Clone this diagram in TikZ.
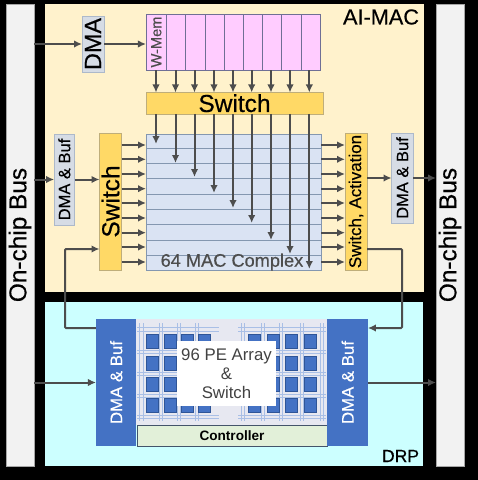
\documentclass[tikz,border=0pt]{standalone}
\usepackage{fontspec}
\setmainfont{Liberation Sans}
\newfontfamily\medfont[RawFeature={embolden=0.45}]{Liberation Sans}
\usetikzlibrary{arrows.meta,calc,positioning}
\definecolor{macbg}{HTML}{FFF2CC}
\definecolor{drpbg}{HTML}{CCFFFF}
\definecolor{busfill}{HTML}{F2F2F2}
\definecolor{busedge}{HTML}{A6A6A6}
\definecolor{swfill}{HTML}{FFD966}
\definecolor{swedge}{HTML}{BFAE7A}
\definecolor{memfill}{HTML}{FFCCFF}
\definecolor{memedge}{HTML}{6F6F95}
\definecolor{rowfill}{HTML}{DAE3F3}
\definecolor{rowedge}{HTML}{8497B0}
\definecolor{smallfill}{HTML}{D6DCE5}
\definecolor{smalledge}{HTML}{ADB9CA}
\definecolor{drpblue}{HTML}{4472C4}
\definecolor{peedge}{HTML}{2F5597}
\definecolor{wire}{HTML}{4D4D4D}
\definecolor{arraybg}{HTML}{E7E8F1}
\definecolor{gridblue}{HTML}{A9BFE6}
\definecolor{ctrlfill}{HTML}{E2F0D9}
\definecolor{ctrledge}{HTML}{44546A}
\newcommand{\fsz}[1]{\fontsize{#1}{#1}\selectfont}
\newcommand{\up}[1]{\rotatebox{90}{#1}}
\tikzset{>={Latex[length=8pt,width=7.5pt]},
  every node/.style={inner sep=0pt,outer sep=0pt},
  busbox/.style={draw=busedge,fill=busfill,line width=1pt,minimum width=28pt,minimum height=462pt,font=\medfont\fsz{24.4}},
  switchbox/.style={draw=swedge,fill=swfill,line width=.9pt},
  dmasmall/.style={draw=smalledge,fill=smallfill,line width=.9pt},
  dmablue/.style={fill=drpblue,text=white,minimum width=40.5pt,minimum height=127pt,font=\medfont\fsz{16.8}},
  memcell/.style={draw=memedge,fill=memfill,line width=.9pt,minimum height=56pt},
  macrow/.style={draw=rowedge,fill=rowfill,line width=.9pt,minimum width=175pt},
  pecell/.style={draw=peedge,fill=drpblue,line width=.5pt,minimum width=12pt,minimum height=14pt},
  flow/.style={->,draw=wire,line width=2pt},
  gridline/.style={draw=gridblue,line width=1pt}}
\begin{document}
\begin{tikzpicture}[x=1pt,y=-1pt]
\fill[black] (0,0) rectangle (478,480);
\useasboundingbox (0,0) rectangle (478,480);
\fill[macbg] (45,4) rectangle (424,292);
\fill[drpbg] (45,302) rectangle (423,466);
\node[busbox] (busl) at (20,235) {\up{On-chip Bus}};
\node[busbox] (busr) at (450,235) {\up{On-chip Bus}};
\node[font=\medfont\fsz{21.7},anchor=east] (aimac) at (419,17) {AI-MAC};
\node[font=\medfont\fsz{17.5},anchor=east] (drplabel) at (419,456) {DRP};
% Weight memory, one wide cell and eight narrow ones.
\foreach \k/\cx/\ww in {1/156.3/20.7,2/176/19.5,3/195.3/19.3,4/215/19.7,5/234/19,6/253/19.5,7/272/19.2,8/291.5/19.8,9/311/19.5}{
 \node[memcell,minimum width=\ww pt] (wmem\k) at (\cx,42) {};}
\node[font=\medfont\fsz{14.6},text=wire] (wmemtext) at (wmem1) {\up{W-Mem}};
\node[dmasmall,minimum width=22pt,minimum height=56pt,font=\medfont\fsz{23.4}] (dmatop) at (93,44) {\up{DMA}};
\node[switchbox,minimum width=177pt,minimum height=21.5pt,font=\medfont\fsz{24.5}] (memswitch) at (234.5,103.2) {Switch};
% MAC complex as nine stacked rows.
\foreach \k/\cy/\hh in {1/141/14,2/155.5/15,3/170.5/15,4/186/16,5/201.5/15,6/216.8/15.5,7/232.2/15.5,8/247.5/15,9/262.5/15}{
 \node[macrow,minimum height=\hh pt] (macrow\k) at (233.5,\cy) {};}
\node[font=\medfont\fsz{18.2},text=wire] (mactext) at (232,262) {64 MAC Complex};
\node[switchbox,minimum width=22pt,minimum height=137pt,font=\medfont\fsz{24.5}] (leftswitch) at (110.5,201.5) {\up{Switch}};
\node[dmasmall,minimum width=20.5pt,minimum height=91pt,font=\medfont\fsz{16.5}] (dmaleft) at (64.3,179.5) {\up{DMA \& Buf}};
\node[switchbox,minimum width=22pt,minimum height=137pt,font=\medfont\fsz{17}] (rightswitch) at (356,201.5) {\up{Switch, Activation}};
\node[dmasmall,minimum width=21.5pt,minimum height=90pt,font=\medfont\fsz{16.5}] (dmaright) at (402.3,178) {\up{DMA \& Buf}};
% Top path and the nine memory wires.
\draw[flow] (busl.east |- dmatop.west)--(dmatop.west);
\draw[flow] (dmatop.east)--(wmem1.west |- dmatop.east);
\foreach \k/\xx/\yy in {1/156/144,2/175.5/163,3/194.5/177,4/214/193,5/233/208,6/251.7/223,7/271/240,8/290/254,9/309.3/269}{
 \coordinate (tap\k) at (\xx,\yy);
 \draw[flow] (wmem\k.south -| tap\k)--(memswitch.north -| tap\k);
 \draw[flow] (memswitch.south -| tap\k)--(tap\k);}
% Row inputs and outputs share the same heights.
\foreach \k/\yy in {1/145,2/159.3,3/174,4/188.7,5/203,6/218,7/232.7,8/247,9/262}{
 \coordinate (rowy\k) at (0,\yy);
 \draw[flow] (leftswitch.east |- rowy\k)--(macrow\k.west |- rowy\k);
 \draw[flow] (macrow\k.east |- rowy\k)--(rightswitch.west |- rowy\k);}
\draw[flow] (busl.east |- dmaleft.west)--(dmaleft.west);
\draw[flow] (dmaleft.east)--(leftswitch.west |- dmaleft.east);
\draw[flow] (rightswitch.east |- dmaright.west)--(dmaright.west);
\draw[flow] (dmaright.east)--(busr.west |- dmaright.east);
% DRP block: grid first, then PE squares, then the white label on top.
\node[fill=arraybg,minimum width=192pt,minimum height=106pt] (pearray) at (232,372) {};
\foreach \xa in {139,143,159,162,177,180,195,198,241,244,261,264,279,282,300,303,320,323}{
 \draw[gridline] (\xa,323)--(\xa,421);}
\foreach \ya in {327,331,350,353,372,375,394,397,415,418}{
 \draw[gridline] (137,\ya)--(219,\ya);
 \draw[gridline] (238,\ya)--(326,\ya);}
\foreach \i/\cx in {1/152,2/170,3/187.5,4/204.5,5/254,6/273,7/291.5,8/310}{
 \foreach \j/\cy in {1/341,2/363,3/384.5,4/405}{
  \node[pecell] (pe\i\j) at (\cx,\cy) {};}}
\node[fill=white,minimum width=99pt,minimum height=65pt,align=center,text=wire!85!black,font=\fsz{16.8}] (petext) at (226.5,373.5) {96 PE Array\\[2pt]\&\\[2pt]Switch};
\node[draw=ctrledge,fill=ctrlfill,line width=1pt,minimum width=190pt,minimum height=21pt,font=\fsz{13.6}\bfseries] (controller) at (232,435.5) {Controller};
\node[dmablue] (drpleft) at (116.2,382.5) {\up{DMA \& Buf}};
\node[dmablue] (drpright) at (347.7,382.5) {\up{DMA \& Buf}};
\draw[flow] (busl.east |- drpleft.west)--(drpleft.west);
\draw[flow] (drpright.east)--(busr.west |- drpright.east);
% Two return wires between the blocks.
\coordinate (backl) at (65,328);
\coordinate (backr) at (402,328);
\coordinate (swin) at (0,249);
\draw[flow,rounded corners=1pt] (drpleft.west |- backl)--(backl)--(backl |- swin)--(leftswitch.west |- swin);
\draw[flow,rounded corners=1pt] (rightswitch.east |- swin)--(backr |- swin)--(backr)--(drpright.east |- backr);
\end{tikzpicture}
\end{document}
